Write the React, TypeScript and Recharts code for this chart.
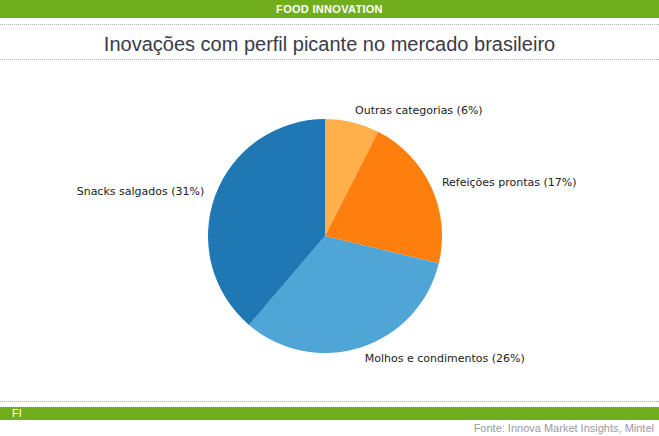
import { PieChart, Pie, Cell } from 'recharts';

const categories = ['Outras categorias', 'Refeições prontas', 'Molhos e condimentos', 'Snacks salgados'];
const shares = [6, 17, 26, 31];
const colors = ['#ffb04a', '#ff7f0e', '#4ea5d6', '#1f77b4'];

const data = categories.map((name, i) => ({ name, value: shares[i] }));

const RADIAN = Math.PI / 180;

function renderLabel(props: any) {
  const { cx, cy, midAngle, outerRadius, name, value } = props;
  const r = outerRadius * 1.1;
  const x = cx + r * Math.cos(-midAngle * RADIAN);
  const y = cy + r * Math.sin(-midAngle * RADIAN);
  return (
    <text
      x={x}
      y={y}
      textAnchor={x > cx ? 'start' : 'end'}
      dominantBaseline="central"
      fontFamily="DejaVu Sans"
      fontSize={11}
      fill="#222"
    >
      {`${name} (${value}%)`}
    </text>
  );
}

const dotted = (top: number) => (
  <div
    style={{
      position: 'absolute',
      left: 0,
      top,
      width: 659,
      borderTop: '1px dotted #b0b0b0',
    }}
  />
);

export default function App() {
  return (
    <div style={{ position: 'absolute', left: 0, top: 0, width: 659, height: 436, background: '#fff', overflow: 'hidden' }}>
      <div
        style={{
          position: 'absolute', left: 0, top: 0, width: 659, height: 18, background: '#70ae1e',
          color: '#fff', fontFamily: 'Liberation Sans', fontWeight: 'bold', fontSize: 11,
          textAlign: 'center', lineHeight: '18px', letterSpacing: 0.3,
        }}
      >
        FOOD INNOVATION
      </div>
      {dotted(24)}
      <div
        style={{
          position: 'absolute', left: 0, top: 31, width: 659, textAlign: 'center',
          fontFamily: 'Liberation Sans', fontSize: 20, color: '#3b3a48', lineHeight: '26px',
        }}
      >
        Inovações com perfil picante no mercado brasileiro
      </div>
      {dotted(59)}
      <div style={{ position: 'absolute', left: 0, top: 0 }}>
        <PieChart width={659} height={436} margin={{ top: 0, right: 0, bottom: 0, left: 0 }}>
          <Pie
            data={data}
            dataKey="value"
            nameKey="name"
            cx={325}
            cy={236}
            outerRadius={117}
            startAngle={90}
            endAngle={-270}
            stroke="none"
            label={renderLabel}
            labelLine={false}
            isAnimationActive={false}
          >
            {data.map((d, i) => (
              <Cell key={d.name} fill={colors[i]} />
            ))}
          </Pie>
        </PieChart>
      </div>
      {dotted(401)}
      <div
        style={{
          position: 'absolute', left: 0, top: 407, width: 659, height: 13, background: '#70ae1e',
          color: '#fff', fontFamily: 'Liberation Sans', fontSize: 11, lineHeight: '13px',
        }}
      >
        <span style={{ marginLeft: 12 }}>FI</span>
      </div>
      <div
        style={{
          position: 'absolute', right: 5, top: 421, fontFamily: 'Liberation Sans', fontSize: 11,
          color: '#9a9a9a', lineHeight: '14px',
        }}
      >
        Fonte: Innova Market Insights, Mintel
      </div>
    </div>
  );
}
